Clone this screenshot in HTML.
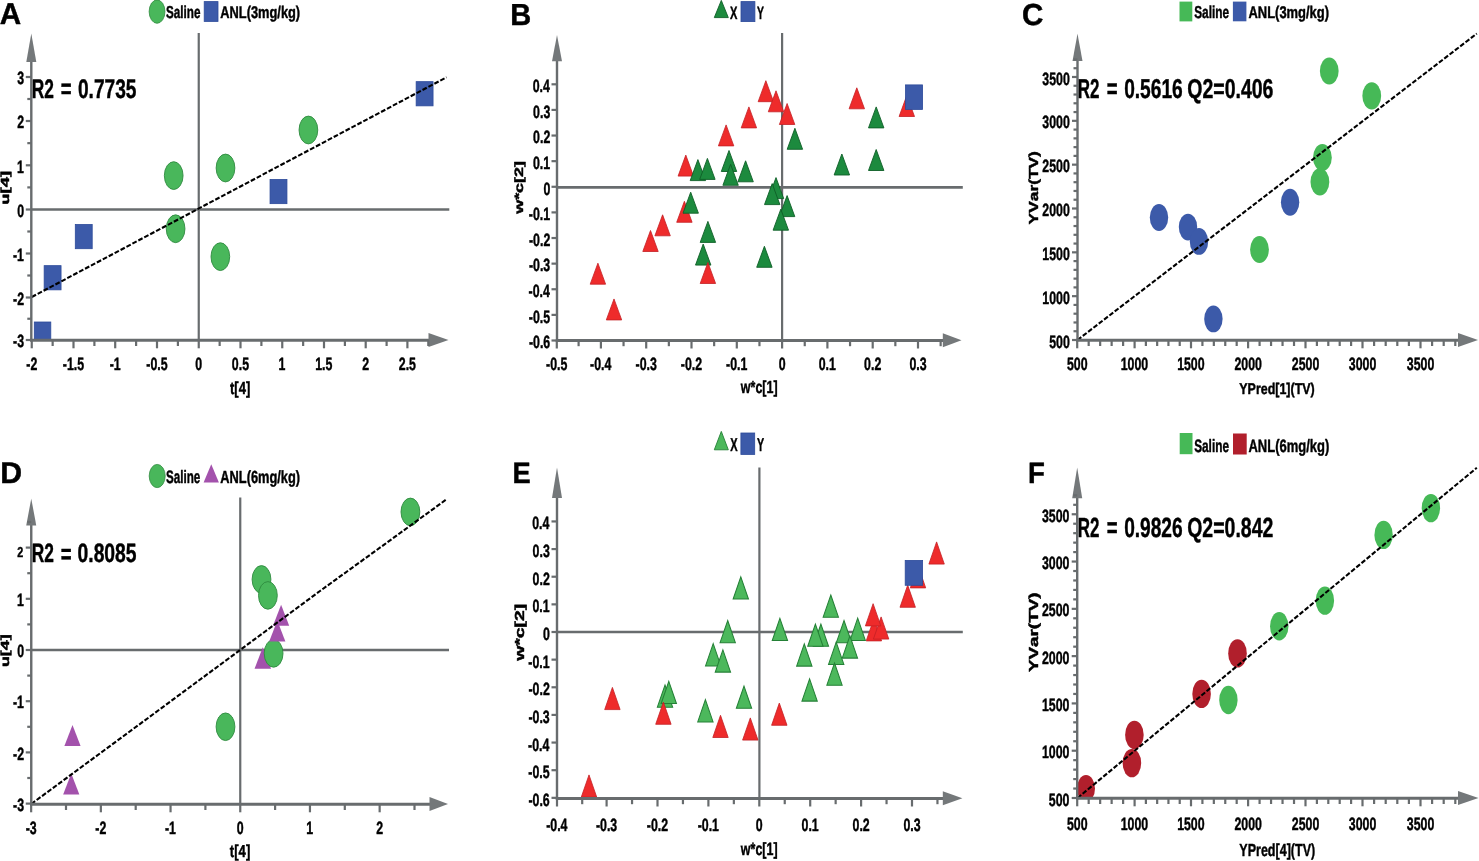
<!DOCTYPE html>
<html><head><meta charset="utf-8"><style>
html,body{margin:0;padding:0;background:#fff;}
svg{display:block;filter:blur(0.45px);}
text{font-family:"Liberation Sans",sans-serif;font-weight:bold;font-kerning:none;text-rendering:geometricPrecision;stroke:#000;stroke-width:0.45px;stroke-linejoin:round;}
</style></head><body>
<svg width="1479" height="861" viewBox="0 0 1479 861">
<rect width="1479" height="861" fill="#fff"/>
<text transform="translate(-0.24,24.40) scale(0.9858,1)" font-size="30.09" fill="#000">A</text>
<ellipse cx="157.05" cy="11.60" rx="7.90" ry="11.70" fill="#49b75b" stroke="#2e8a3e" stroke-width="0.8"/>
<text transform="translate(165.96,18.30) scale(0.6746,1)" font-size="17.33" fill="#000">Saline</text>
<rect x="204.20" y="1.60" width="13.80" height="19.80" fill="#3c5aa9" stroke="#2c4a9a" stroke-width="0.8"/>
<text transform="translate(220.28,18.30) scale(0.7612,1)" font-size="16.86" fill="#000">ANL(3mg/kg)</text>
<line x1="198.75" y1="33.00" x2="198.75" y2="340.00" stroke="#686c6e" stroke-width="2.2" />
<line x1="31.30" y1="209.50" x2="449.30" y2="209.50" stroke="#686c6e" stroke-width="2.6" />
<rect x="34.30" y="322.00" width="16.50" height="18.00" fill="#3c5aa9" stroke="#2c4a9a" stroke-width="0.8"/>
<ellipse cx="308.40" cy="130.00" rx="9.35" ry="13.90" fill="#49b75b" stroke="#2e8a3e" stroke-width="0.9"/>
<ellipse cx="225.50" cy="168.00" rx="9.35" ry="13.90" fill="#49b75b" stroke="#2e8a3e" stroke-width="0.9"/>
<ellipse cx="173.70" cy="175.60" rx="9.35" ry="13.90" fill="#49b75b" stroke="#2e8a3e" stroke-width="0.9"/>
<ellipse cx="175.60" cy="228.75" rx="9.35" ry="13.90" fill="#49b75b" stroke="#2e8a3e" stroke-width="0.9"/>
<ellipse cx="220.35" cy="256.65" rx="9.35" ry="13.90" fill="#49b75b" stroke="#2e8a3e" stroke-width="0.9"/>
<rect x="416.15" y="81.65" width="16.90" height="24.20" fill="#3c5aa9" stroke="#2c4a9a" stroke-width="0.8"/>
<rect x="270.05" y="179.45" width="16.90" height="24.20" fill="#3c5aa9" stroke="#2c4a9a" stroke-width="0.8"/>
<rect x="75.30" y="224.50" width="16.90" height="24.20" fill="#3c5aa9" stroke="#2c4a9a" stroke-width="0.8"/>
<rect x="44.15" y="265.65" width="16.90" height="24.20" fill="#3c5aa9" stroke="#2c4a9a" stroke-width="0.8"/>
<line x1="31.75" y1="297.00" x2="446.50" y2="77.30" stroke="#000" stroke-width="2.1" stroke-dasharray="4.8 1.9"/>
<line x1="31.30" y1="60.90" x2="31.30" y2="341.20" stroke="#686c6e" stroke-width="2.4" />
<polygon points="31.30,33.40 36.30,61.90 26.30,61.90" fill="#74787a"/>
<line x1="30.10" y1="340.30" x2="429.50" y2="340.30" stroke="#686c6e" stroke-width="3.0" />
<polygon points="448.50,340.00 428.50,333.00 428.50,347.00" fill="#74787a"/>
<line x1="25.80" y1="77.00" x2="31.30" y2="77.00" stroke="#686c6e" stroke-width="2.2" />
<line x1="25.80" y1="121.00" x2="31.30" y2="121.00" stroke="#686c6e" stroke-width="2.2" />
<line x1="25.80" y1="165.30" x2="31.30" y2="165.30" stroke="#686c6e" stroke-width="2.2" />
<line x1="25.80" y1="209.50" x2="31.30" y2="209.50" stroke="#686c6e" stroke-width="2.2" />
<line x1="25.80" y1="253.50" x2="31.30" y2="253.50" stroke="#686c6e" stroke-width="2.2" />
<line x1="25.80" y1="297.50" x2="31.30" y2="297.50" stroke="#686c6e" stroke-width="2.2" />
<line x1="25.80" y1="340.00" x2="31.30" y2="340.00" stroke="#686c6e" stroke-width="2.2" />
<line x1="27.30" y1="99.00" x2="31.30" y2="99.00" stroke="#686c6e" stroke-width="2.2" />
<line x1="27.30" y1="143.15" x2="31.30" y2="143.15" stroke="#686c6e" stroke-width="2.2" />
<line x1="27.30" y1="187.40" x2="31.30" y2="187.40" stroke="#686c6e" stroke-width="2.2" />
<line x1="27.30" y1="231.50" x2="31.30" y2="231.50" stroke="#686c6e" stroke-width="2.2" />
<line x1="27.30" y1="275.50" x2="31.30" y2="275.50" stroke="#686c6e" stroke-width="2.2" />
<line x1="27.30" y1="318.75" x2="31.30" y2="318.75" stroke="#686c6e" stroke-width="2.2" />
<line x1="31.75" y1="340.00" x2="31.75" y2="348.30" stroke="#686c6e" stroke-width="2.2" />
<line x1="73.50" y1="340.00" x2="73.50" y2="348.30" stroke="#686c6e" stroke-width="2.2" />
<line x1="115.20" y1="340.00" x2="115.20" y2="348.30" stroke="#686c6e" stroke-width="2.2" />
<line x1="157.00" y1="340.00" x2="157.00" y2="348.30" stroke="#686c6e" stroke-width="2.2" />
<line x1="198.75" y1="340.00" x2="198.75" y2="348.30" stroke="#686c6e" stroke-width="2.2" />
<line x1="240.50" y1="340.00" x2="240.50" y2="348.30" stroke="#686c6e" stroke-width="2.2" />
<line x1="282.25" y1="340.00" x2="282.25" y2="348.30" stroke="#686c6e" stroke-width="2.2" />
<line x1="324.00" y1="340.00" x2="324.00" y2="348.30" stroke="#686c6e" stroke-width="2.2" />
<line x1="365.70" y1="340.00" x2="365.70" y2="348.30" stroke="#686c6e" stroke-width="2.2" />
<line x1="407.40" y1="340.00" x2="407.40" y2="348.30" stroke="#686c6e" stroke-width="2.2" />
<line x1="52.65" y1="340.00" x2="52.65" y2="346.00" stroke="#686c6e" stroke-width="2.2" />
<line x1="94.40" y1="340.00" x2="94.40" y2="346.00" stroke="#686c6e" stroke-width="2.2" />
<line x1="136.10" y1="340.00" x2="136.10" y2="346.00" stroke="#686c6e" stroke-width="2.2" />
<line x1="177.90" y1="340.00" x2="177.90" y2="346.00" stroke="#686c6e" stroke-width="2.2" />
<line x1="219.65" y1="340.00" x2="219.65" y2="346.00" stroke="#686c6e" stroke-width="2.2" />
<line x1="261.40" y1="340.00" x2="261.40" y2="346.00" stroke="#686c6e" stroke-width="2.2" />
<line x1="303.15" y1="340.00" x2="303.15" y2="346.00" stroke="#686c6e" stroke-width="2.2" />
<line x1="344.90" y1="340.00" x2="344.90" y2="346.00" stroke="#686c6e" stroke-width="2.2" />
<line x1="386.60" y1="340.00" x2="386.60" y2="346.00" stroke="#686c6e" stroke-width="2.2" />
<line x1="428.30" y1="340.00" x2="428.30" y2="346.00" stroke="#686c6e" stroke-width="2.2" />
<text transform="translate(17.18,84.35) scale(0.6900,1)" font-size="17.90" fill="#000">3</text>
<text transform="translate(17.23,128.35) scale(0.6900,1)" font-size="17.90" fill="#000">2</text>
<text transform="translate(17.07,172.65) scale(0.6900,1)" font-size="17.90" fill="#000">1</text>
<text transform="translate(17.24,216.85) scale(0.6900,1)" font-size="17.90" fill="#000">0</text>
<text transform="translate(12.96,260.85) scale(0.6900,1)" font-size="17.90" fill="#000">-1</text>
<text transform="translate(13.11,304.85) scale(0.6900,1)" font-size="17.90" fill="#000">-2</text>
<text transform="translate(13.06,347.35) scale(0.6900,1)" font-size="17.90" fill="#000">-3</text>
<text transform="translate(26.27,370.00) scale(0.6900,1)" font-size="17.90" fill="#000">-2</text>
<text transform="translate(62.79,370.00) scale(0.6900,1)" font-size="17.90" fill="#000">-1.5</text>
<text transform="translate(109.64,370.00) scale(0.6900,1)" font-size="17.90" fill="#000">-1</text>
<text transform="translate(146.29,370.00) scale(0.6900,1)" font-size="17.90" fill="#000">-0.5</text>
<text transform="translate(195.32,370.00) scale(0.6900,1)" font-size="17.90" fill="#000">0</text>
<text transform="translate(231.84,370.00) scale(0.6900,1)" font-size="17.90" fill="#000">0.5</text>
<text transform="translate(278.60,370.00) scale(0.6900,1)" font-size="17.90" fill="#000">1</text>
<text transform="translate(315.20,370.00) scale(0.6900,1)" font-size="17.90" fill="#000">1.5</text>
<text transform="translate(362.30,370.00) scale(0.6900,1)" font-size="17.90" fill="#000">2</text>
<text transform="translate(398.77,370.00) scale(0.6900,1)" font-size="17.90" fill="#000">2.5</text>
<text transform="translate(229.94,393.50) scale(0.7481,1)" font-size="17.44" fill="#000">t[4]</text>
<text transform="translate(8.70,204.64) rotate(-90) scale(1.5602,1)" font-size="11.77">u[4]</text>
<text transform="translate(31.74,98.00) scale(0.6471,1)" font-size="26.78" fill="#000">R2</text>
<text transform="translate(60.73,98.20) scale(0.6780,1)" font-size="27.35" fill="#000">=</text>
<text transform="translate(77.94,98.00) scale(0.7153,1)" font-size="26.78" fill="#000">0.7735</text>
<text transform="translate(510.16,24.60) scale(0.9554,1)" font-size="30.38" fill="#000">B</text>
<polygon points="721.30,0.40 728.30,17.60 714.30,17.60" fill="#1c8a3e" stroke="#0f5f27" stroke-width="0.9" stroke-linejoin="miter"/>
<text transform="translate(730.10,18.60) scale(0.6252,1)" font-size="17.73" fill="#000">X</text>
<rect x="741.00" y="1.60" width="13.90" height="20.00" fill="#3c5aa9" stroke="#2c4a9a" stroke-width="0.8"/>
<text transform="translate(757.12,18.60) scale(0.5872,1)" font-size="17.73" fill="#000">Y</text>
<line x1="782.10" y1="33.00" x2="782.10" y2="340.20" stroke="#686c6e" stroke-width="2.2" />
<line x1="557.00" y1="187.40" x2="962.80" y2="187.40" stroke="#686c6e" stroke-width="2.6" />
<polygon points="765.85,80.70 773.55,101.70 758.15,101.70" fill="#ee2b2b" stroke="#c41f24" stroke-width="0.8" stroke-linejoin="miter"/>
<polygon points="776.00,90.80 783.70,111.80 768.30,111.80" fill="#ee2b2b" stroke="#c41f24" stroke-width="0.8" stroke-linejoin="miter"/>
<polygon points="787.10,103.50 794.80,124.50 779.40,124.50" fill="#ee2b2b" stroke="#c41f24" stroke-width="0.8" stroke-linejoin="miter"/>
<polygon points="748.90,106.90 756.60,127.90 741.20,127.90" fill="#ee2b2b" stroke="#c41f24" stroke-width="0.8" stroke-linejoin="miter"/>
<polygon points="726.10,124.90 733.80,145.90 718.40,145.90" fill="#ee2b2b" stroke="#c41f24" stroke-width="0.8" stroke-linejoin="miter"/>
<polygon points="685.80,155.10 693.50,176.10 678.10,176.10" fill="#ee2b2b" stroke="#c41f24" stroke-width="0.8" stroke-linejoin="miter"/>
<polygon points="684.40,201.30 692.10,222.30 676.70,222.30" fill="#ee2b2b" stroke="#c41f24" stroke-width="0.8" stroke-linejoin="miter"/>
<polygon points="662.60,214.80 670.30,235.80 654.90,235.80" fill="#ee2b2b" stroke="#c41f24" stroke-width="0.8" stroke-linejoin="miter"/>
<polygon points="650.50,230.50 658.20,251.50 642.80,251.50" fill="#ee2b2b" stroke="#c41f24" stroke-width="0.8" stroke-linejoin="miter"/>
<polygon points="597.90,263.20 605.60,284.20 590.20,284.20" fill="#ee2b2b" stroke="#c41f24" stroke-width="0.8" stroke-linejoin="miter"/>
<polygon points="614.00,298.95 621.70,319.95 606.30,319.95" fill="#ee2b2b" stroke="#c41f24" stroke-width="0.8" stroke-linejoin="miter"/>
<polygon points="856.80,87.80 864.50,108.80 849.10,108.80" fill="#ee2b2b" stroke="#c41f24" stroke-width="0.8" stroke-linejoin="miter"/>
<polygon points="906.80,95.50 914.50,116.50 899.10,116.50" fill="#ee2b2b" stroke="#c41f24" stroke-width="0.8" stroke-linejoin="miter"/>
<polygon points="794.90,128.30 802.60,149.30 787.20,149.30" fill="#1c8a3e" stroke="#0f5f27" stroke-width="0.9" stroke-linejoin="miter"/>
<polygon points="697.90,159.60 705.60,180.60 690.20,180.60" fill="#1c8a3e" stroke="#0f5f27" stroke-width="0.9" stroke-linejoin="miter"/>
<polygon points="707.40,158.40 715.10,179.40 699.70,179.40" fill="#1c8a3e" stroke="#0f5f27" stroke-width="0.9" stroke-linejoin="miter"/>
<polygon points="729.00,150.50 736.70,171.50 721.30,171.50" fill="#1c8a3e" stroke="#0f5f27" stroke-width="0.9" stroke-linejoin="miter"/>
<polygon points="730.60,164.30 738.30,185.30 722.90,185.30" fill="#1c8a3e" stroke="#0f5f27" stroke-width="0.9" stroke-linejoin="miter"/>
<polygon points="745.60,160.80 753.30,181.80 737.90,181.80" fill="#1c8a3e" stroke="#0f5f27" stroke-width="0.9" stroke-linejoin="miter"/>
<polygon points="776.00,177.60 783.70,198.60 768.30,198.60" fill="#1c8a3e" stroke="#0f5f27" stroke-width="0.9" stroke-linejoin="miter"/>
<polygon points="772.20,183.60 779.90,204.60 764.50,204.60" fill="#1c8a3e" stroke="#0f5f27" stroke-width="0.9" stroke-linejoin="miter"/>
<polygon points="787.10,195.60 794.80,216.60 779.40,216.60" fill="#1c8a3e" stroke="#0f5f27" stroke-width="0.9" stroke-linejoin="miter"/>
<polygon points="780.80,209.20 788.50,230.20 773.10,230.20" fill="#1c8a3e" stroke="#0f5f27" stroke-width="0.9" stroke-linejoin="miter"/>
<polygon points="690.70,192.20 698.40,213.20 683.00,213.20" fill="#1c8a3e" stroke="#0f5f27" stroke-width="0.9" stroke-linejoin="miter"/>
<polygon points="707.90,221.40 715.60,242.40 700.20,242.40" fill="#1c8a3e" stroke="#0f5f27" stroke-width="0.9" stroke-linejoin="miter"/>
<polygon points="703.20,244.10 710.90,265.10 695.50,265.10" fill="#1c8a3e" stroke="#0f5f27" stroke-width="0.9" stroke-linejoin="miter"/>
<polygon points="764.40,246.30 772.10,267.30 756.70,267.30" fill="#1c8a3e" stroke="#0f5f27" stroke-width="0.9" stroke-linejoin="miter"/>
<polygon points="876.20,106.90 883.90,127.90 868.50,127.90" fill="#1c8a3e" stroke="#0f5f27" stroke-width="0.9" stroke-linejoin="miter"/>
<polygon points="876.20,149.50 883.90,170.50 868.50,170.50" fill="#1c8a3e" stroke="#0f5f27" stroke-width="0.9" stroke-linejoin="miter"/>
<polygon points="841.85,154.00 849.55,175.00 834.15,175.00" fill="#1c8a3e" stroke="#0f5f27" stroke-width="0.9" stroke-linejoin="miter"/>
<polygon points="707.90,262.50 715.60,283.50 700.20,283.50" fill="#ee2b2b" stroke="#c41f24" stroke-width="0.8" stroke-linejoin="miter"/>
<rect x="905.50" y="84.90" width="17.10" height="24.50" fill="#3c5aa9" stroke="#2c4a9a" stroke-width="0.8"/>
<line x1="557.00" y1="60.30" x2="557.00" y2="341.40" stroke="#686c6e" stroke-width="2.4" />
<polygon points="557.00,35.00 562.00,61.30 552.00,61.30" fill="#74787a"/>
<line x1="555.80" y1="340.50" x2="943.80" y2="340.50" stroke="#686c6e" stroke-width="3.0" />
<polygon points="961.50,340.20 942.80,333.20 942.80,347.20" fill="#74787a"/>
<line x1="551.50" y1="84.30" x2="557.00" y2="84.30" stroke="#686c6e" stroke-width="2.2" />
<line x1="551.50" y1="109.92" x2="557.00" y2="109.92" stroke="#686c6e" stroke-width="2.2" />
<line x1="551.50" y1="135.54" x2="557.00" y2="135.54" stroke="#686c6e" stroke-width="2.2" />
<line x1="551.50" y1="161.16" x2="557.00" y2="161.16" stroke="#686c6e" stroke-width="2.2" />
<line x1="551.50" y1="186.78" x2="557.00" y2="186.78" stroke="#686c6e" stroke-width="2.2" />
<line x1="551.50" y1="212.40" x2="557.00" y2="212.40" stroke="#686c6e" stroke-width="2.2" />
<line x1="551.50" y1="238.02" x2="557.00" y2="238.02" stroke="#686c6e" stroke-width="2.2" />
<line x1="551.50" y1="263.64" x2="557.00" y2="263.64" stroke="#686c6e" stroke-width="2.2" />
<line x1="551.50" y1="289.26" x2="557.00" y2="289.26" stroke="#686c6e" stroke-width="2.2" />
<line x1="551.50" y1="314.88" x2="557.00" y2="314.88" stroke="#686c6e" stroke-width="2.2" />
<line x1="551.50" y1="340.50" x2="557.00" y2="340.50" stroke="#686c6e" stroke-width="2.2" />
<line x1="556.80" y1="340.20" x2="556.80" y2="348.50" stroke="#686c6e" stroke-width="2.2" />
<line x1="600.90" y1="340.20" x2="600.90" y2="348.50" stroke="#686c6e" stroke-width="2.2" />
<line x1="646.20" y1="340.20" x2="646.20" y2="348.50" stroke="#686c6e" stroke-width="2.2" />
<line x1="691.50" y1="340.20" x2="691.50" y2="348.50" stroke="#686c6e" stroke-width="2.2" />
<line x1="736.80" y1="340.20" x2="736.80" y2="348.50" stroke="#686c6e" stroke-width="2.2" />
<line x1="782.10" y1="340.20" x2="782.10" y2="348.50" stroke="#686c6e" stroke-width="2.2" />
<line x1="827.40" y1="340.20" x2="827.40" y2="348.50" stroke="#686c6e" stroke-width="2.2" />
<line x1="872.70" y1="340.20" x2="872.70" y2="348.50" stroke="#686c6e" stroke-width="2.2" />
<line x1="918.00" y1="340.20" x2="918.00" y2="348.50" stroke="#686c6e" stroke-width="2.2" />
<line x1="578.60" y1="340.20" x2="578.60" y2="346.20" stroke="#686c6e" stroke-width="2.2" />
<line x1="623.55" y1="340.20" x2="623.55" y2="346.20" stroke="#686c6e" stroke-width="2.2" />
<line x1="668.85" y1="340.20" x2="668.85" y2="346.20" stroke="#686c6e" stroke-width="2.2" />
<line x1="714.15" y1="340.20" x2="714.15" y2="346.20" stroke="#686c6e" stroke-width="2.2" />
<line x1="759.45" y1="340.20" x2="759.45" y2="346.20" stroke="#686c6e" stroke-width="2.2" />
<line x1="804.75" y1="340.20" x2="804.75" y2="346.20" stroke="#686c6e" stroke-width="2.2" />
<line x1="850.05" y1="340.20" x2="850.05" y2="346.20" stroke="#686c6e" stroke-width="2.2" />
<line x1="895.35" y1="340.20" x2="895.35" y2="346.20" stroke="#686c6e" stroke-width="2.2" />
<line x1="940.65" y1="340.20" x2="940.65" y2="346.20" stroke="#686c6e" stroke-width="2.2" />
<text transform="translate(532.70,92.05) scale(0.6900,1)" font-size="17.90" fill="#000">0.4</text>
<text transform="translate(533.08,117.67) scale(0.6900,1)" font-size="17.90" fill="#000">0.3</text>
<text transform="translate(533.12,143.29) scale(0.6900,1)" font-size="17.90" fill="#000">0.2</text>
<text transform="translate(532.97,168.91) scale(0.6900,1)" font-size="17.90" fill="#000">0.1</text>
<text transform="translate(543.44,194.53) scale(0.6900,1)" font-size="17.90" fill="#000">0</text>
<text transform="translate(528.86,220.15) scale(0.6900,1)" font-size="17.90" fill="#000">-0.1</text>
<text transform="translate(529.01,245.77) scale(0.6900,1)" font-size="17.90" fill="#000">-0.2</text>
<text transform="translate(528.96,271.39) scale(0.6900,1)" font-size="17.90" fill="#000">-0.3</text>
<text transform="translate(528.58,297.01) scale(0.6900,1)" font-size="17.90" fill="#000">-0.4</text>
<text transform="translate(528.86,322.63) scale(0.6900,1)" font-size="17.90" fill="#000">-0.5</text>
<text transform="translate(528.96,348.25) scale(0.6900,1)" font-size="17.90" fill="#000">-0.6</text>
<text transform="translate(546.09,370.20) scale(0.6900,1)" font-size="17.90" fill="#000">-0.5</text>
<text transform="translate(590.05,370.20) scale(0.6900,1)" font-size="17.90" fill="#000">-0.4</text>
<text transform="translate(635.54,370.20) scale(0.6900,1)" font-size="17.90" fill="#000">-0.3</text>
<text transform="translate(680.86,370.20) scale(0.6900,1)" font-size="17.90" fill="#000">-0.2</text>
<text transform="translate(726.09,370.20) scale(0.6900,1)" font-size="17.90" fill="#000">-0.1</text>
<text transform="translate(778.67,370.20) scale(0.6900,1)" font-size="17.90" fill="#000">0</text>
<text transform="translate(818.74,370.20) scale(0.6900,1)" font-size="17.90" fill="#000">0.1</text>
<text transform="translate(864.12,370.20) scale(0.6900,1)" font-size="17.90" fill="#000">0.2</text>
<text transform="translate(909.39,370.20) scale(0.6900,1)" font-size="17.90" fill="#000">0.3</text>
<text transform="translate(740.84,393.40) scale(0.7156,1)" font-size="17.44" fill="#000">w*c[1]</text>
<text transform="translate(523.30,213.75) rotate(-90) scale(1.4846,1)" font-size="12.06">w*c[2]</text>
<text transform="translate(1021.99,24.50) scale(0.9722,1)" font-size="30.36" fill="#000">C</text>
<rect x="1179.50" y="1.60" width="12.80" height="19.80" fill="#46b957"/>
<text transform="translate(1194.16,18.30) scale(0.6826,1)" font-size="17.33" fill="#000">Saline</text>
<rect x="1232.90" y="1.60" width="13.50" height="19.70" fill="#3c5aa9"/>
<text transform="translate(1248.48,18.30) scale(0.7680,1)" font-size="16.86" fill="#000">ANL(3mg/kg)</text>
<ellipse cx="1259.50" cy="249.50" rx="9.40" ry="13.60" fill="#46b957"/>
<ellipse cx="1319.90" cy="181.90" rx="9.40" ry="13.60" fill="#46b957"/>
<ellipse cx="1322.40" cy="157.50" rx="9.40" ry="13.60" fill="#46b957"/>
<ellipse cx="1371.75" cy="95.90" rx="9.40" ry="13.60" fill="#46b957"/>
<ellipse cx="1329.25" cy="71.00" rx="9.40" ry="13.60" fill="#46b957"/>
<ellipse cx="1159.00" cy="217.50" rx="9.20" ry="13.40" fill="#3c5aa9"/>
<ellipse cx="1188.00" cy="227.10" rx="9.20" ry="13.40" fill="#3c5aa9"/>
<ellipse cx="1199.00" cy="241.40" rx="9.20" ry="13.40" fill="#3c5aa9"/>
<ellipse cx="1213.40" cy="318.90" rx="9.20" ry="13.40" fill="#3c5aa9"/>
<ellipse cx="1290.10" cy="202.25" rx="9.20" ry="13.40" fill="#3c5aa9"/>
<line x1="1077.50" y1="340.00" x2="1476.80" y2="33.60" stroke="#000" stroke-width="2.1" stroke-dasharray="4.8 1.9"/>
<line x1="1077.50" y1="60.00" x2="1077.50" y2="341.20" stroke="#686c6e" stroke-width="2.4" />
<polygon points="1077.50,33.70 1082.50,61.00 1072.50,61.00" fill="#74787a"/>
<line x1="1076.30" y1="340.30" x2="1459.00" y2="340.30" stroke="#686c6e" stroke-width="3.0" />
<polygon points="1478.00,340.00 1458.00,333.00 1458.00,347.00" fill="#74787a"/>
<line x1="1072.00" y1="76.99" x2="1077.50" y2="76.99" stroke="#686c6e" stroke-width="2.2" />
<line x1="1072.00" y1="120.83" x2="1077.50" y2="120.83" stroke="#686c6e" stroke-width="2.2" />
<line x1="1072.00" y1="164.66" x2="1077.50" y2="164.66" stroke="#686c6e" stroke-width="2.2" />
<line x1="1072.00" y1="208.50" x2="1077.50" y2="208.50" stroke="#686c6e" stroke-width="2.2" />
<line x1="1072.00" y1="252.33" x2="1077.50" y2="252.33" stroke="#686c6e" stroke-width="2.2" />
<line x1="1072.00" y1="296.17" x2="1077.50" y2="296.17" stroke="#686c6e" stroke-width="2.2" />
<line x1="1072.00" y1="340.00" x2="1077.50" y2="340.00" stroke="#686c6e" stroke-width="2.2" />
<line x1="1073.50" y1="331.23" x2="1077.50" y2="331.23" stroke="#686c6e" stroke-width="2.2" />
<line x1="1073.50" y1="322.47" x2="1077.50" y2="322.47" stroke="#686c6e" stroke-width="2.2" />
<line x1="1073.50" y1="313.70" x2="1077.50" y2="313.70" stroke="#686c6e" stroke-width="2.2" />
<line x1="1073.50" y1="304.93" x2="1077.50" y2="304.93" stroke="#686c6e" stroke-width="2.2" />
<line x1="1073.50" y1="287.40" x2="1077.50" y2="287.40" stroke="#686c6e" stroke-width="2.2" />
<line x1="1073.50" y1="278.63" x2="1077.50" y2="278.63" stroke="#686c6e" stroke-width="2.2" />
<line x1="1073.50" y1="269.86" x2="1077.50" y2="269.86" stroke="#686c6e" stroke-width="2.2" />
<line x1="1073.50" y1="261.10" x2="1077.50" y2="261.10" stroke="#686c6e" stroke-width="2.2" />
<line x1="1073.50" y1="243.56" x2="1077.50" y2="243.56" stroke="#686c6e" stroke-width="2.2" />
<line x1="1073.50" y1="234.80" x2="1077.50" y2="234.80" stroke="#686c6e" stroke-width="2.2" />
<line x1="1073.50" y1="226.03" x2="1077.50" y2="226.03" stroke="#686c6e" stroke-width="2.2" />
<line x1="1073.50" y1="217.26" x2="1077.50" y2="217.26" stroke="#686c6e" stroke-width="2.2" />
<line x1="1073.50" y1="199.73" x2="1077.50" y2="199.73" stroke="#686c6e" stroke-width="2.2" />
<line x1="1073.50" y1="190.96" x2="1077.50" y2="190.96" stroke="#686c6e" stroke-width="2.2" />
<line x1="1073.50" y1="182.19" x2="1077.50" y2="182.19" stroke="#686c6e" stroke-width="2.2" />
<line x1="1073.50" y1="173.43" x2="1077.50" y2="173.43" stroke="#686c6e" stroke-width="2.2" />
<line x1="1073.50" y1="155.89" x2="1077.50" y2="155.89" stroke="#686c6e" stroke-width="2.2" />
<line x1="1073.50" y1="147.13" x2="1077.50" y2="147.13" stroke="#686c6e" stroke-width="2.2" />
<line x1="1073.50" y1="138.36" x2="1077.50" y2="138.36" stroke="#686c6e" stroke-width="2.2" />
<line x1="1073.50" y1="129.59" x2="1077.50" y2="129.59" stroke="#686c6e" stroke-width="2.2" />
<line x1="1073.50" y1="112.06" x2="1077.50" y2="112.06" stroke="#686c6e" stroke-width="2.2" />
<line x1="1073.50" y1="103.29" x2="1077.50" y2="103.29" stroke="#686c6e" stroke-width="2.2" />
<line x1="1073.50" y1="94.52" x2="1077.50" y2="94.52" stroke="#686c6e" stroke-width="2.2" />
<line x1="1073.50" y1="85.76" x2="1077.50" y2="85.76" stroke="#686c6e" stroke-width="2.2" />
<line x1="1073.50" y1="68.22" x2="1077.50" y2="68.22" stroke="#686c6e" stroke-width="2.2" />
<line x1="1073.50" y1="59.46" x2="1077.50" y2="59.46" stroke="#686c6e" stroke-width="2.2" />
<line x1="1077.20" y1="340.00" x2="1077.20" y2="348.30" stroke="#686c6e" stroke-width="2.2" />
<line x1="1134.60" y1="340.00" x2="1134.60" y2="348.30" stroke="#686c6e" stroke-width="2.2" />
<line x1="1191.00" y1="340.00" x2="1191.00" y2="348.30" stroke="#686c6e" stroke-width="2.2" />
<line x1="1248.10" y1="340.00" x2="1248.10" y2="348.30" stroke="#686c6e" stroke-width="2.2" />
<line x1="1305.50" y1="340.00" x2="1305.50" y2="348.30" stroke="#686c6e" stroke-width="2.2" />
<line x1="1362.50" y1="340.00" x2="1362.50" y2="348.30" stroke="#686c6e" stroke-width="2.2" />
<line x1="1420.50" y1="340.00" x2="1420.50" y2="348.30" stroke="#686c6e" stroke-width="2.2" />
<line x1="1088.68" y1="340.00" x2="1088.68" y2="346.00" stroke="#686c6e" stroke-width="2.2" />
<line x1="1100.16" y1="340.00" x2="1100.16" y2="346.00" stroke="#686c6e" stroke-width="2.2" />
<line x1="1111.64" y1="340.00" x2="1111.64" y2="346.00" stroke="#686c6e" stroke-width="2.2" />
<line x1="1123.12" y1="340.00" x2="1123.12" y2="346.00" stroke="#686c6e" stroke-width="2.2" />
<line x1="1145.88" y1="340.00" x2="1145.88" y2="346.00" stroke="#686c6e" stroke-width="2.2" />
<line x1="1157.16" y1="340.00" x2="1157.16" y2="346.00" stroke="#686c6e" stroke-width="2.2" />
<line x1="1168.44" y1="340.00" x2="1168.44" y2="346.00" stroke="#686c6e" stroke-width="2.2" />
<line x1="1179.72" y1="340.00" x2="1179.72" y2="346.00" stroke="#686c6e" stroke-width="2.2" />
<line x1="1202.42" y1="340.00" x2="1202.42" y2="346.00" stroke="#686c6e" stroke-width="2.2" />
<line x1="1213.84" y1="340.00" x2="1213.84" y2="346.00" stroke="#686c6e" stroke-width="2.2" />
<line x1="1225.26" y1="340.00" x2="1225.26" y2="346.00" stroke="#686c6e" stroke-width="2.2" />
<line x1="1236.68" y1="340.00" x2="1236.68" y2="346.00" stroke="#686c6e" stroke-width="2.2" />
<line x1="1259.58" y1="340.00" x2="1259.58" y2="346.00" stroke="#686c6e" stroke-width="2.2" />
<line x1="1271.06" y1="340.00" x2="1271.06" y2="346.00" stroke="#686c6e" stroke-width="2.2" />
<line x1="1282.54" y1="340.00" x2="1282.54" y2="346.00" stroke="#686c6e" stroke-width="2.2" />
<line x1="1294.02" y1="340.00" x2="1294.02" y2="346.00" stroke="#686c6e" stroke-width="2.2" />
<line x1="1316.90" y1="340.00" x2="1316.90" y2="346.00" stroke="#686c6e" stroke-width="2.2" />
<line x1="1328.30" y1="340.00" x2="1328.30" y2="346.00" stroke="#686c6e" stroke-width="2.2" />
<line x1="1339.70" y1="340.00" x2="1339.70" y2="346.00" stroke="#686c6e" stroke-width="2.2" />
<line x1="1351.10" y1="340.00" x2="1351.10" y2="346.00" stroke="#686c6e" stroke-width="2.2" />
<line x1="1374.10" y1="340.00" x2="1374.10" y2="346.00" stroke="#686c6e" stroke-width="2.2" />
<line x1="1385.70" y1="340.00" x2="1385.70" y2="346.00" stroke="#686c6e" stroke-width="2.2" />
<line x1="1397.30" y1="340.00" x2="1397.30" y2="346.00" stroke="#686c6e" stroke-width="2.2" />
<line x1="1408.90" y1="340.00" x2="1408.90" y2="346.00" stroke="#686c6e" stroke-width="2.2" />
<line x1="1432.10" y1="340.00" x2="1432.10" y2="346.00" stroke="#686c6e" stroke-width="2.2" />
<line x1="1443.70" y1="340.00" x2="1443.70" y2="346.00" stroke="#686c6e" stroke-width="2.2" />
<line x1="1455.30" y1="340.00" x2="1455.30" y2="346.00" stroke="#686c6e" stroke-width="2.2" />
<text transform="translate(1042.33,84.54) scale(0.6900,1)" font-size="17.90" fill="#000">3500</text>
<text transform="translate(1042.33,128.37) scale(0.6900,1)" font-size="17.90" fill="#000">3000</text>
<text transform="translate(1042.33,172.21) scale(0.6900,1)" font-size="17.90" fill="#000">2500</text>
<text transform="translate(1042.33,216.04) scale(0.6900,1)" font-size="17.90" fill="#000">2000</text>
<text transform="translate(1042.33,259.88) scale(0.6900,1)" font-size="17.90" fill="#000">1500</text>
<text transform="translate(1042.33,303.71) scale(0.6900,1)" font-size="17.90" fill="#000">1000</text>
<text transform="translate(1049.20,347.55) scale(0.6900,1)" font-size="17.90" fill="#000">500</text>
<text transform="translate(1066.96,370.30) scale(0.6900,1)" font-size="17.90" fill="#000">500</text>
<text transform="translate(1120.73,370.30) scale(0.6900,1)" font-size="17.90" fill="#000">1000</text>
<text transform="translate(1177.13,370.30) scale(0.6900,1)" font-size="17.90" fill="#000">1500</text>
<text transform="translate(1234.40,370.30) scale(0.6900,1)" font-size="17.90" fill="#000">2000</text>
<text transform="translate(1291.80,370.30) scale(0.6900,1)" font-size="17.90" fill="#000">2500</text>
<text transform="translate(1348.87,370.30) scale(0.6900,1)" font-size="17.90" fill="#000">3000</text>
<text transform="translate(1406.87,370.30) scale(0.6900,1)" font-size="17.90" fill="#000">3500</text>
<text transform="translate(1239.29,393.50) scale(0.8009,1)" font-size="15.55" fill="#000">YPred[1](TV)</text>
<text transform="translate(1038.40,224.40) rotate(-90) scale(1.3261,1)" font-size="13.08">YVar(TV)</text>
<text transform="translate(1077.86,97.60) scale(0.6210,1)" font-size="27.35" fill="#000">R2</text>
<text transform="translate(1106.83,97.80) scale(0.6641,1)" font-size="27.93" fill="#000">=</text>
<text transform="translate(1124.14,97.60) scale(0.6998,1)" font-size="27.35" fill="#000">0.5616</text>
<text transform="translate(1187.20,97.60) scale(0.7138,1)" font-size="27.35" fill="#000">Q2=0.406</text>
<text transform="translate(0.23,482.80) scale(1.0102,1)" font-size="29.94" fill="#000">D</text>
<ellipse cx="157.20" cy="476.00" rx="8.00" ry="11.60" fill="#49b75b" stroke="#2e8a3e" stroke-width="0.8"/>
<text transform="translate(165.96,483.10) scale(0.6478,1)" font-size="18.05" fill="#000">Saline</text>
<polygon points="211.25,464.30 218.90,482.50 203.60,482.50" fill="#a352ac"/>
<text transform="translate(220.28,483.10) scale(0.7298,1)" font-size="17.59" fill="#000">ANL(6mg/kg)</text>
<line x1="240.25" y1="497.50" x2="240.25" y2="804.00" stroke="#686c6e" stroke-width="2.2" />
<line x1="31.25" y1="650.00" x2="449.00" y2="650.00" stroke="#686c6e" stroke-width="2.6" />
<polygon points="262.80,647.15 271.05,668.65 254.55,668.65" fill="#a352ac"/>
<ellipse cx="410.40" cy="511.90" rx="9.40" ry="13.80" fill="#49b75b" stroke="#2e8a3e" stroke-width="0.9"/>
<ellipse cx="261.50" cy="579.40" rx="9.40" ry="13.80" fill="#49b75b" stroke="#2e8a3e" stroke-width="0.9"/>
<ellipse cx="267.90" cy="595.40" rx="9.40" ry="13.80" fill="#49b75b" stroke="#2e8a3e" stroke-width="0.9"/>
<ellipse cx="273.60" cy="653.40" rx="9.40" ry="13.80" fill="#49b75b" stroke="#2e8a3e" stroke-width="0.9"/>
<ellipse cx="225.50" cy="726.75" rx="9.40" ry="13.80" fill="#49b75b" stroke="#2e8a3e" stroke-width="0.9"/>
<polygon points="72.50,724.90 80.60,745.90 64.40,745.90" fill="#a352ac"/>
<polygon points="71.25,773.50 79.35,794.50 63.15,794.50" fill="#a352ac"/>
<polygon points="277.30,620.50 285.40,641.50 269.20,641.50" fill="#a352ac"/>
<polygon points="281.10,604.70 289.20,625.70 273.00,625.70" fill="#a352ac"/>
<polyline points="31.25,804.00 139.10,724.60 320.00,591.00 384.20,544.60 446.30,499.50" fill="none" stroke="#000" stroke-width="2.1" stroke-dasharray="4.8 1.9"/>
<line x1="31.25" y1="524.50" x2="31.25" y2="805.20" stroke="#686c6e" stroke-width="2.4" />
<polygon points="31.25,498.40 36.25,525.50 26.25,525.50" fill="#74787a"/>
<line x1="30.05" y1="804.30" x2="430.50" y2="804.30" stroke="#686c6e" stroke-width="3.0" />
<polygon points="448.00,804.00 429.50,797.00 429.50,811.00" fill="#74787a"/>
<line x1="25.75" y1="547.60" x2="31.25" y2="547.60" stroke="#686c6e" stroke-width="2.2" />
<line x1="25.75" y1="598.80" x2="31.25" y2="598.80" stroke="#686c6e" stroke-width="2.2" />
<line x1="25.75" y1="650.00" x2="31.25" y2="650.00" stroke="#686c6e" stroke-width="2.2" />
<line x1="25.75" y1="701.20" x2="31.25" y2="701.20" stroke="#686c6e" stroke-width="2.2" />
<line x1="25.75" y1="752.40" x2="31.25" y2="752.40" stroke="#686c6e" stroke-width="2.2" />
<line x1="25.75" y1="803.60" x2="31.25" y2="803.60" stroke="#686c6e" stroke-width="2.2" />
<line x1="27.25" y1="778.00" x2="31.25" y2="778.00" stroke="#686c6e" stroke-width="2.2" />
<line x1="27.25" y1="726.80" x2="31.25" y2="726.80" stroke="#686c6e" stroke-width="2.2" />
<line x1="27.25" y1="675.60" x2="31.25" y2="675.60" stroke="#686c6e" stroke-width="2.2" />
<line x1="27.25" y1="624.40" x2="31.25" y2="624.40" stroke="#686c6e" stroke-width="2.2" />
<line x1="27.25" y1="573.20" x2="31.25" y2="573.20" stroke="#686c6e" stroke-width="2.2" />
<line x1="27.25" y1="522.00" x2="31.25" y2="522.00" stroke="#686c6e" stroke-width="2.2" />
<line x1="31.15" y1="804.00" x2="31.15" y2="812.30" stroke="#686c6e" stroke-width="2.2" />
<line x1="100.85" y1="804.00" x2="100.85" y2="812.30" stroke="#686c6e" stroke-width="2.2" />
<line x1="170.55" y1="804.00" x2="170.55" y2="812.30" stroke="#686c6e" stroke-width="2.2" />
<line x1="240.25" y1="804.00" x2="240.25" y2="812.30" stroke="#686c6e" stroke-width="2.2" />
<line x1="309.95" y1="804.00" x2="309.95" y2="812.30" stroke="#686c6e" stroke-width="2.2" />
<line x1="379.65" y1="804.00" x2="379.65" y2="812.30" stroke="#686c6e" stroke-width="2.2" />
<line x1="66.00" y1="804.00" x2="66.00" y2="810.00" stroke="#686c6e" stroke-width="2.2" />
<line x1="135.70" y1="804.00" x2="135.70" y2="810.00" stroke="#686c6e" stroke-width="2.2" />
<line x1="205.40" y1="804.00" x2="205.40" y2="810.00" stroke="#686c6e" stroke-width="2.2" />
<line x1="275.10" y1="804.00" x2="275.10" y2="810.00" stroke="#686c6e" stroke-width="2.2" />
<line x1="344.80" y1="804.00" x2="344.80" y2="810.00" stroke="#686c6e" stroke-width="2.2" />
<line x1="414.50" y1="804.00" x2="414.50" y2="810.00" stroke="#686c6e" stroke-width="2.2" />
<text transform="translate(17.07,606.05) scale(0.6900,1)" font-size="17.90" fill="#000">1</text>
<text transform="translate(17.24,657.25) scale(0.6900,1)" font-size="17.90" fill="#000">0</text>
<text transform="translate(12.96,708.45) scale(0.6900,1)" font-size="17.90" fill="#000">-1</text>
<text transform="translate(13.11,759.65) scale(0.6900,1)" font-size="17.90" fill="#000">-2</text>
<text transform="translate(13.06,810.85) scale(0.6900,1)" font-size="17.90" fill="#000">-3</text>
<text transform="translate(25.64,833.50) scale(0.6900,1)" font-size="17.90" fill="#000">-3</text>
<text transform="translate(95.37,833.50) scale(0.6900,1)" font-size="17.90" fill="#000">-2</text>
<text transform="translate(164.99,833.50) scale(0.6900,1)" font-size="17.90" fill="#000">-1</text>
<text transform="translate(236.82,833.50) scale(0.6900,1)" font-size="17.90" fill="#000">0</text>
<text transform="translate(306.30,833.50) scale(0.6900,1)" font-size="17.90" fill="#000">1</text>
<text transform="translate(376.25,833.50) scale(0.6900,1)" font-size="17.90" fill="#000">2</text>
<text transform="translate(17.23,556.70) scale(0.7467,1)" font-size="14.46" fill="#000">2</text>
<text transform="translate(229.84,857.30) scale(0.7621,1)" font-size="17.30" fill="#000">t[4]</text>
<text transform="translate(8.70,667.11) rotate(-90) scale(1.5255,1)" font-size="11.77">u[4]</text>
<text transform="translate(31.74,562.30) scale(0.6541,1)" font-size="26.50" fill="#000">R2</text>
<text transform="translate(60.73,562.50) scale(0.6852,1)" font-size="27.07" fill="#000">=</text>
<text transform="translate(77.54,562.30) scale(0.7281,1)" font-size="26.50" fill="#000">0.8085</text>
<text transform="translate(512.58,482.70) scale(0.9242,1)" font-size="29.51" fill="#000">E</text>
<polygon points="721.30,431.40 728.30,449.80 714.30,449.80" fill="#4cb85c" stroke="#248036" stroke-width="0.9" stroke-linejoin="miter"/>
<text transform="translate(730.20,451.20) scale(0.5959,1)" font-size="18.60" fill="#000">X</text>
<rect x="740.90" y="433.00" width="13.80" height="21.40" fill="#3c5aa9" stroke="#2c4a9a" stroke-width="0.8"/>
<text transform="translate(757.12,451.20) scale(0.5767,1)" font-size="18.60" fill="#000">Y</text>
<line x1="759.40" y1="467.40" x2="759.40" y2="798.00" stroke="#686c6e" stroke-width="2.2" />
<line x1="557.00" y1="632.00" x2="962.80" y2="632.00" stroke="#686c6e" stroke-width="2.6" />
<polygon points="740.80,576.80 748.45,599.00 733.15,599.00" fill="#4cb85c" stroke="#248036" stroke-width="1.05" stroke-linejoin="miter"/>
<polygon points="727.70,620.50 735.35,642.70 720.05,642.70" fill="#4cb85c" stroke="#248036" stroke-width="1.05" stroke-linejoin="miter"/>
<polygon points="779.90,618.30 787.55,640.50 772.25,640.50" fill="#4cb85c" stroke="#248036" stroke-width="1.05" stroke-linejoin="miter"/>
<polygon points="830.80,595.00 838.45,617.20 823.15,617.20" fill="#4cb85c" stroke="#248036" stroke-width="1.05" stroke-linejoin="miter"/>
<polygon points="820.90,624.10 828.55,646.30 813.25,646.30" fill="#4cb85c" stroke="#248036" stroke-width="1.05" stroke-linejoin="miter"/>
<polygon points="815.40,624.10 823.05,646.30 807.75,646.30" fill="#4cb85c" stroke="#248036" stroke-width="1.05" stroke-linejoin="miter"/>
<polygon points="713.20,643.70 720.85,665.90 705.55,665.90" fill="#4cb85c" stroke="#248036" stroke-width="1.05" stroke-linejoin="miter"/>
<polygon points="722.90,649.90 730.55,672.10 715.25,672.10" fill="#4cb85c" stroke="#248036" stroke-width="1.05" stroke-linejoin="miter"/>
<polygon points="804.30,643.90 811.95,666.10 796.65,666.10" fill="#4cb85c" stroke="#248036" stroke-width="1.05" stroke-linejoin="miter"/>
<polygon points="836.20,642.20 843.85,664.40 828.55,664.40" fill="#4cb85c" stroke="#248036" stroke-width="1.05" stroke-linejoin="miter"/>
<polygon points="834.50,663.00 842.15,685.20 826.85,685.20" fill="#4cb85c" stroke="#248036" stroke-width="1.05" stroke-linejoin="miter"/>
<polygon points="809.60,678.90 817.25,701.10 801.95,701.10" fill="#4cb85c" stroke="#248036" stroke-width="1.05" stroke-linejoin="miter"/>
<polygon points="744.00,686.10 751.65,708.30 736.35,708.30" fill="#4cb85c" stroke="#248036" stroke-width="1.05" stroke-linejoin="miter"/>
<polygon points="705.40,699.70 713.05,721.90 697.75,721.90" fill="#4cb85c" stroke="#248036" stroke-width="1.05" stroke-linejoin="miter"/>
<polygon points="844.00,620.50 851.65,642.70 836.35,642.70" fill="#4cb85c" stroke="#248036" stroke-width="1.05" stroke-linejoin="miter"/>
<polygon points="857.70,618.20 865.35,640.40 850.05,640.40" fill="#4cb85c" stroke="#248036" stroke-width="1.05" stroke-linejoin="miter"/>
<polygon points="849.90,635.90 857.55,658.10 842.25,658.10" fill="#4cb85c" stroke="#248036" stroke-width="1.05" stroke-linejoin="miter"/>
<polygon points="665.00,685.00 672.65,707.20 657.35,707.20" fill="#4cb85c" stroke="#248036" stroke-width="1.05" stroke-linejoin="miter"/>
<polygon points="668.80,681.30 676.45,703.50 661.15,703.50" fill="#4cb85c" stroke="#248036" stroke-width="1.05" stroke-linejoin="miter"/>
<polygon points="936.60,541.90 944.30,564.10 928.90,564.10" fill="#ee2b2b" stroke="#c41f24" stroke-width="0.8" stroke-linejoin="miter"/>
<polygon points="907.70,585.10 915.40,607.30 900.00,607.30" fill="#ee2b2b" stroke="#c41f24" stroke-width="0.8" stroke-linejoin="miter"/>
<polygon points="918.00,565.70 925.70,587.90 910.30,587.90" fill="#ee2b2b" stroke="#c41f24" stroke-width="0.8" stroke-linejoin="miter"/>
<polygon points="873.90,618.70 881.60,640.90 866.20,640.90" fill="#ee2b2b" stroke="#c41f24" stroke-width="0.8" stroke-linejoin="miter"/>
<polygon points="881.10,616.90 888.80,639.10 873.40,639.10" fill="#ee2b2b" stroke="#c41f24" stroke-width="0.8" stroke-linejoin="miter"/>
<polygon points="873.10,603.70 880.80,625.90 865.40,625.90" fill="#ee2b2b" stroke="#c41f24" stroke-width="0.8" stroke-linejoin="miter"/>
<polygon points="779.30,703.10 787.00,725.30 771.60,725.30" fill="#ee2b2b" stroke="#c41f24" stroke-width="0.8" stroke-linejoin="miter"/>
<polygon points="612.40,687.40 620.10,709.60 604.70,709.60" fill="#ee2b2b" stroke="#c41f24" stroke-width="0.8" stroke-linejoin="miter"/>
<polygon points="663.40,702.10 671.10,724.30 655.70,724.30" fill="#ee2b2b" stroke="#c41f24" stroke-width="0.8" stroke-linejoin="miter"/>
<polygon points="720.50,715.30 728.20,737.50 712.80,737.50" fill="#ee2b2b" stroke="#c41f24" stroke-width="0.8" stroke-linejoin="miter"/>
<polygon points="750.30,717.90 758.00,740.10 742.60,740.10" fill="#ee2b2b" stroke="#c41f24" stroke-width="0.8" stroke-linejoin="miter"/>
<polygon points="589.00,774.90 596.70,797.10 581.30,797.10" fill="#ee2b2b" stroke="#c41f24" stroke-width="0.8" stroke-linejoin="miter"/>
<rect x="905.20" y="560.40" width="17.40" height="24.90" fill="#3c5aa9" stroke="#2c4a9a" stroke-width="0.8"/>
<line x1="557.00" y1="497.00" x2="557.00" y2="799.40" stroke="#686c6e" stroke-width="2.4" />
<polygon points="557.00,467.50 562.00,498.00 552.00,498.00" fill="#74787a"/>
<line x1="555.80" y1="798.50" x2="943.80" y2="798.50" stroke="#686c6e" stroke-width="3.0" />
<polygon points="962.40,798.20 942.80,791.20 942.80,805.20" fill="#74787a"/>
<line x1="551.50" y1="521.44" x2="557.00" y2="521.44" stroke="#686c6e" stroke-width="2.2" />
<line x1="551.50" y1="549.08" x2="557.00" y2="549.08" stroke="#686c6e" stroke-width="2.2" />
<line x1="551.50" y1="576.72" x2="557.00" y2="576.72" stroke="#686c6e" stroke-width="2.2" />
<line x1="551.50" y1="604.36" x2="557.00" y2="604.36" stroke="#686c6e" stroke-width="2.2" />
<line x1="551.50" y1="632.00" x2="557.00" y2="632.00" stroke="#686c6e" stroke-width="2.2" />
<line x1="551.50" y1="659.64" x2="557.00" y2="659.64" stroke="#686c6e" stroke-width="2.2" />
<line x1="551.50" y1="687.28" x2="557.00" y2="687.28" stroke="#686c6e" stroke-width="2.2" />
<line x1="551.50" y1="714.92" x2="557.00" y2="714.92" stroke="#686c6e" stroke-width="2.2" />
<line x1="551.50" y1="742.56" x2="557.00" y2="742.56" stroke="#686c6e" stroke-width="2.2" />
<line x1="551.50" y1="770.20" x2="557.00" y2="770.20" stroke="#686c6e" stroke-width="2.2" />
<line x1="551.50" y1="797.84" x2="557.00" y2="797.84" stroke="#686c6e" stroke-width="2.2" />
<line x1="557.00" y1="798.20" x2="557.00" y2="806.50" stroke="#686c6e" stroke-width="2.2" />
<line x1="606.60" y1="798.20" x2="606.60" y2="806.50" stroke="#686c6e" stroke-width="2.2" />
<line x1="657.50" y1="798.20" x2="657.50" y2="806.50" stroke="#686c6e" stroke-width="2.2" />
<line x1="708.40" y1="798.20" x2="708.40" y2="806.50" stroke="#686c6e" stroke-width="2.2" />
<line x1="759.30" y1="798.20" x2="759.30" y2="806.50" stroke="#686c6e" stroke-width="2.2" />
<line x1="810.20" y1="798.20" x2="810.20" y2="806.50" stroke="#686c6e" stroke-width="2.2" />
<line x1="861.10" y1="798.20" x2="861.10" y2="806.50" stroke="#686c6e" stroke-width="2.2" />
<line x1="912.00" y1="798.20" x2="912.00" y2="806.50" stroke="#686c6e" stroke-width="2.2" />
<line x1="582.20" y1="798.20" x2="582.20" y2="804.20" stroke="#686c6e" stroke-width="2.2" />
<line x1="632.05" y1="798.20" x2="632.05" y2="804.20" stroke="#686c6e" stroke-width="2.2" />
<line x1="682.95" y1="798.20" x2="682.95" y2="804.20" stroke="#686c6e" stroke-width="2.2" />
<line x1="733.85" y1="798.20" x2="733.85" y2="804.20" stroke="#686c6e" stroke-width="2.2" />
<line x1="784.75" y1="798.20" x2="784.75" y2="804.20" stroke="#686c6e" stroke-width="2.2" />
<line x1="835.65" y1="798.20" x2="835.65" y2="804.20" stroke="#686c6e" stroke-width="2.2" />
<line x1="886.55" y1="798.20" x2="886.55" y2="804.20" stroke="#686c6e" stroke-width="2.2" />
<line x1="937.45" y1="798.20" x2="937.45" y2="804.20" stroke="#686c6e" stroke-width="2.2" />
<text transform="translate(532.20,529.39) scale(0.6900,1)" font-size="17.90" fill="#000">0.4</text>
<text transform="translate(532.58,557.03) scale(0.6900,1)" font-size="17.90" fill="#000">0.3</text>
<text transform="translate(532.62,584.67) scale(0.6900,1)" font-size="17.90" fill="#000">0.2</text>
<text transform="translate(532.47,612.31) scale(0.6900,1)" font-size="17.90" fill="#000">0.1</text>
<text transform="translate(542.94,639.95) scale(0.6900,1)" font-size="17.90" fill="#000">0</text>
<text transform="translate(528.36,667.59) scale(0.6900,1)" font-size="17.90" fill="#000">-0.1</text>
<text transform="translate(528.51,695.23) scale(0.6900,1)" font-size="17.90" fill="#000">-0.2</text>
<text transform="translate(528.46,722.87) scale(0.6900,1)" font-size="17.90" fill="#000">-0.3</text>
<text transform="translate(528.08,750.51) scale(0.6900,1)" font-size="17.90" fill="#000">-0.4</text>
<text transform="translate(528.36,778.15) scale(0.6900,1)" font-size="17.90" fill="#000">-0.5</text>
<text transform="translate(528.46,805.79) scale(0.6900,1)" font-size="17.90" fill="#000">-0.6</text>
<text transform="translate(546.15,831.00) scale(0.6900,1)" font-size="17.90" fill="#000">-0.4</text>
<text transform="translate(595.94,831.00) scale(0.6900,1)" font-size="17.90" fill="#000">-0.3</text>
<text transform="translate(646.86,831.00) scale(0.6900,1)" font-size="17.90" fill="#000">-0.2</text>
<text transform="translate(697.69,831.00) scale(0.6900,1)" font-size="17.90" fill="#000">-0.1</text>
<text transform="translate(755.87,831.00) scale(0.6900,1)" font-size="17.90" fill="#000">0</text>
<text transform="translate(801.54,831.00) scale(0.6900,1)" font-size="17.90" fill="#000">0.1</text>
<text transform="translate(852.52,831.00) scale(0.6900,1)" font-size="17.90" fill="#000">0.2</text>
<text transform="translate(903.39,831.00) scale(0.6900,1)" font-size="17.90" fill="#000">0.3</text>
<text transform="translate(740.84,855.40) scale(0.7039,1)" font-size="17.73" fill="#000">w*c[1]</text>
<text transform="translate(524.40,660.84) rotate(-90) scale(1.4828,1)" font-size="13.08">w*c[2]</text>
<text transform="translate(1028.05,482.70) scale(0.9352,1)" font-size="29.51" fill="#000">F</text>
<rect x="1179.70" y="433.00" width="12.80" height="21.20" fill="#46b957"/>
<text transform="translate(1194.16,451.50) scale(0.6607,1)" font-size="17.90" fill="#000">Saline</text>
<rect x="1233.00" y="433.50" width="13.70" height="21.00" fill="#b11f2c"/>
<text transform="translate(1248.48,451.70) scale(0.7279,1)" font-size="17.88" fill="#000">ANL(6mg/kg)</text>
<ellipse cx="1228.40" cy="700.00" rx="9.20" ry="14.20" fill="#46b957"/>
<ellipse cx="1279.25" cy="626.25" rx="9.20" ry="14.20" fill="#46b957"/>
<ellipse cx="1324.90" cy="600.60" rx="9.20" ry="14.20" fill="#46b957"/>
<ellipse cx="1383.60" cy="534.90" rx="9.20" ry="14.20" fill="#46b957"/>
<ellipse cx="1430.90" cy="508.10" rx="9.20" ry="14.20" fill="#46b957"/>
<ellipse cx="1134.40" cy="734.90" rx="9.30" ry="14.20" fill="#b11f2c"/>
<ellipse cx="1131.90" cy="763.10" rx="9.30" ry="14.20" fill="#b11f2c"/>
<ellipse cx="1201.60" cy="693.90" rx="9.30" ry="14.20" fill="#b11f2c"/>
<ellipse cx="1237.50" cy="653.40" rx="9.30" ry="14.20" fill="#b11f2c"/>
<clipPath id="cf"><rect x="1077" y="400" width="400" height="398"/></clipPath>
<ellipse clip-path="url(#cf)" cx="1086" cy="788.5" rx="9" ry="13.5" fill="#b11f2c"/>
<line x1="1077.50" y1="798.00" x2="1476.80" y2="467.80" stroke="#000" stroke-width="2.1" stroke-dasharray="4.8 1.9"/>
<line x1="1077.20" y1="497.20" x2="1077.20" y2="799.20" stroke="#686c6e" stroke-width="2.4" />
<polygon points="1077.20,467.50 1082.20,498.20 1072.20,498.20" fill="#74787a"/>
<line x1="1076.00" y1="798.30" x2="1459.00" y2="798.30" stroke="#686c6e" stroke-width="3.0" />
<polygon points="1478.50,798.00 1458.00,791.00 1458.00,805.00" fill="#74787a"/>
<line x1="1071.70" y1="514.26" x2="1077.20" y2="514.26" stroke="#686c6e" stroke-width="2.2" />
<line x1="1071.70" y1="561.55" x2="1077.20" y2="561.55" stroke="#686c6e" stroke-width="2.2" />
<line x1="1071.70" y1="608.84" x2="1077.20" y2="608.84" stroke="#686c6e" stroke-width="2.2" />
<line x1="1071.70" y1="656.13" x2="1077.20" y2="656.13" stroke="#686c6e" stroke-width="2.2" />
<line x1="1071.70" y1="703.42" x2="1077.20" y2="703.42" stroke="#686c6e" stroke-width="2.2" />
<line x1="1071.70" y1="750.71" x2="1077.20" y2="750.71" stroke="#686c6e" stroke-width="2.2" />
<line x1="1071.70" y1="798.00" x2="1077.20" y2="798.00" stroke="#686c6e" stroke-width="2.2" />
<line x1="1073.20" y1="788.54" x2="1077.20" y2="788.54" stroke="#686c6e" stroke-width="2.2" />
<line x1="1073.20" y1="779.08" x2="1077.20" y2="779.08" stroke="#686c6e" stroke-width="2.2" />
<line x1="1073.20" y1="769.63" x2="1077.20" y2="769.63" stroke="#686c6e" stroke-width="2.2" />
<line x1="1073.20" y1="760.17" x2="1077.20" y2="760.17" stroke="#686c6e" stroke-width="2.2" />
<line x1="1073.20" y1="741.25" x2="1077.20" y2="741.25" stroke="#686c6e" stroke-width="2.2" />
<line x1="1073.20" y1="731.79" x2="1077.20" y2="731.79" stroke="#686c6e" stroke-width="2.2" />
<line x1="1073.20" y1="722.34" x2="1077.20" y2="722.34" stroke="#686c6e" stroke-width="2.2" />
<line x1="1073.20" y1="712.88" x2="1077.20" y2="712.88" stroke="#686c6e" stroke-width="2.2" />
<line x1="1073.20" y1="693.96" x2="1077.20" y2="693.96" stroke="#686c6e" stroke-width="2.2" />
<line x1="1073.20" y1="684.50" x2="1077.20" y2="684.50" stroke="#686c6e" stroke-width="2.2" />
<line x1="1073.20" y1="675.05" x2="1077.20" y2="675.05" stroke="#686c6e" stroke-width="2.2" />
<line x1="1073.20" y1="665.59" x2="1077.20" y2="665.59" stroke="#686c6e" stroke-width="2.2" />
<line x1="1073.20" y1="646.67" x2="1077.20" y2="646.67" stroke="#686c6e" stroke-width="2.2" />
<line x1="1073.20" y1="637.21" x2="1077.20" y2="637.21" stroke="#686c6e" stroke-width="2.2" />
<line x1="1073.20" y1="627.76" x2="1077.20" y2="627.76" stroke="#686c6e" stroke-width="2.2" />
<line x1="1073.20" y1="618.30" x2="1077.20" y2="618.30" stroke="#686c6e" stroke-width="2.2" />
<line x1="1073.20" y1="599.38" x2="1077.20" y2="599.38" stroke="#686c6e" stroke-width="2.2" />
<line x1="1073.20" y1="589.92" x2="1077.20" y2="589.92" stroke="#686c6e" stroke-width="2.2" />
<line x1="1073.20" y1="580.47" x2="1077.20" y2="580.47" stroke="#686c6e" stroke-width="2.2" />
<line x1="1073.20" y1="571.01" x2="1077.20" y2="571.01" stroke="#686c6e" stroke-width="2.2" />
<line x1="1073.20" y1="552.09" x2="1077.20" y2="552.09" stroke="#686c6e" stroke-width="2.2" />
<line x1="1073.20" y1="542.63" x2="1077.20" y2="542.63" stroke="#686c6e" stroke-width="2.2" />
<line x1="1073.20" y1="533.18" x2="1077.20" y2="533.18" stroke="#686c6e" stroke-width="2.2" />
<line x1="1073.20" y1="523.72" x2="1077.20" y2="523.72" stroke="#686c6e" stroke-width="2.2" />
<line x1="1073.20" y1="504.80" x2="1077.20" y2="504.80" stroke="#686c6e" stroke-width="2.2" />
<line x1="1073.20" y1="495.34" x2="1077.20" y2="495.34" stroke="#686c6e" stroke-width="2.2" />
<line x1="1077.20" y1="798.00" x2="1077.20" y2="806.30" stroke="#686c6e" stroke-width="2.2" />
<line x1="1134.60" y1="798.00" x2="1134.60" y2="806.30" stroke="#686c6e" stroke-width="2.2" />
<line x1="1191.00" y1="798.00" x2="1191.00" y2="806.30" stroke="#686c6e" stroke-width="2.2" />
<line x1="1248.10" y1="798.00" x2="1248.10" y2="806.30" stroke="#686c6e" stroke-width="2.2" />
<line x1="1305.50" y1="798.00" x2="1305.50" y2="806.30" stroke="#686c6e" stroke-width="2.2" />
<line x1="1362.50" y1="798.00" x2="1362.50" y2="806.30" stroke="#686c6e" stroke-width="2.2" />
<line x1="1420.50" y1="798.00" x2="1420.50" y2="806.30" stroke="#686c6e" stroke-width="2.2" />
<line x1="1088.68" y1="798.00" x2="1088.68" y2="804.00" stroke="#686c6e" stroke-width="2.2" />
<line x1="1100.16" y1="798.00" x2="1100.16" y2="804.00" stroke="#686c6e" stroke-width="2.2" />
<line x1="1111.64" y1="798.00" x2="1111.64" y2="804.00" stroke="#686c6e" stroke-width="2.2" />
<line x1="1123.12" y1="798.00" x2="1123.12" y2="804.00" stroke="#686c6e" stroke-width="2.2" />
<line x1="1145.88" y1="798.00" x2="1145.88" y2="804.00" stroke="#686c6e" stroke-width="2.2" />
<line x1="1157.16" y1="798.00" x2="1157.16" y2="804.00" stroke="#686c6e" stroke-width="2.2" />
<line x1="1168.44" y1="798.00" x2="1168.44" y2="804.00" stroke="#686c6e" stroke-width="2.2" />
<line x1="1179.72" y1="798.00" x2="1179.72" y2="804.00" stroke="#686c6e" stroke-width="2.2" />
<line x1="1202.42" y1="798.00" x2="1202.42" y2="804.00" stroke="#686c6e" stroke-width="2.2" />
<line x1="1213.84" y1="798.00" x2="1213.84" y2="804.00" stroke="#686c6e" stroke-width="2.2" />
<line x1="1225.26" y1="798.00" x2="1225.26" y2="804.00" stroke="#686c6e" stroke-width="2.2" />
<line x1="1236.68" y1="798.00" x2="1236.68" y2="804.00" stroke="#686c6e" stroke-width="2.2" />
<line x1="1259.58" y1="798.00" x2="1259.58" y2="804.00" stroke="#686c6e" stroke-width="2.2" />
<line x1="1271.06" y1="798.00" x2="1271.06" y2="804.00" stroke="#686c6e" stroke-width="2.2" />
<line x1="1282.54" y1="798.00" x2="1282.54" y2="804.00" stroke="#686c6e" stroke-width="2.2" />
<line x1="1294.02" y1="798.00" x2="1294.02" y2="804.00" stroke="#686c6e" stroke-width="2.2" />
<line x1="1316.90" y1="798.00" x2="1316.90" y2="804.00" stroke="#686c6e" stroke-width="2.2" />
<line x1="1328.30" y1="798.00" x2="1328.30" y2="804.00" stroke="#686c6e" stroke-width="2.2" />
<line x1="1339.70" y1="798.00" x2="1339.70" y2="804.00" stroke="#686c6e" stroke-width="2.2" />
<line x1="1351.10" y1="798.00" x2="1351.10" y2="804.00" stroke="#686c6e" stroke-width="2.2" />
<line x1="1374.10" y1="798.00" x2="1374.10" y2="804.00" stroke="#686c6e" stroke-width="2.2" />
<line x1="1385.70" y1="798.00" x2="1385.70" y2="804.00" stroke="#686c6e" stroke-width="2.2" />
<line x1="1397.30" y1="798.00" x2="1397.30" y2="804.00" stroke="#686c6e" stroke-width="2.2" />
<line x1="1408.90" y1="798.00" x2="1408.90" y2="804.00" stroke="#686c6e" stroke-width="2.2" />
<line x1="1432.10" y1="798.00" x2="1432.10" y2="804.00" stroke="#686c6e" stroke-width="2.2" />
<line x1="1443.70" y1="798.00" x2="1443.70" y2="804.00" stroke="#686c6e" stroke-width="2.2" />
<line x1="1455.30" y1="798.00" x2="1455.30" y2="804.00" stroke="#686c6e" stroke-width="2.2" />
<text transform="translate(1041.93,521.81) scale(0.6900,1)" font-size="17.90" fill="#000">3500</text>
<text transform="translate(1041.93,569.10) scale(0.6900,1)" font-size="17.90" fill="#000">3000</text>
<text transform="translate(1041.93,616.39) scale(0.6900,1)" font-size="17.90" fill="#000">2500</text>
<text transform="translate(1041.93,663.68) scale(0.6900,1)" font-size="17.90" fill="#000">2000</text>
<text transform="translate(1041.93,710.97) scale(0.6900,1)" font-size="17.90" fill="#000">1500</text>
<text transform="translate(1041.93,758.26) scale(0.6900,1)" font-size="17.90" fill="#000">1000</text>
<text transform="translate(1048.80,805.55) scale(0.6900,1)" font-size="17.90" fill="#000">500</text>
<text transform="translate(1066.96,829.70) scale(0.6900,1)" font-size="17.90" fill="#000">500</text>
<text transform="translate(1120.73,829.70) scale(0.6900,1)" font-size="17.90" fill="#000">1000</text>
<text transform="translate(1177.13,829.70) scale(0.6900,1)" font-size="17.90" fill="#000">1500</text>
<text transform="translate(1234.40,829.70) scale(0.6900,1)" font-size="17.90" fill="#000">2000</text>
<text transform="translate(1291.80,829.70) scale(0.6900,1)" font-size="17.90" fill="#000">2500</text>
<text transform="translate(1348.87,829.70) scale(0.6900,1)" font-size="17.90" fill="#000">3000</text>
<text transform="translate(1406.87,829.70) scale(0.6900,1)" font-size="17.90" fill="#000">3500</text>
<text transform="translate(1239.29,855.80) scale(0.7189,1)" font-size="17.44" fill="#000">YPred[4](TV)</text>
<text transform="translate(1038.40,672.12) rotate(-90) scale(1.4420,1)" font-size="13.08">YVar(TV)</text>
<text transform="translate(1077.86,536.60) scale(0.6114,1)" font-size="27.78" fill="#000">R2</text>
<text transform="translate(1106.83,536.80) scale(0.6540,1)" font-size="28.36" fill="#000">=</text>
<text transform="translate(1124.14,536.60) scale(0.6890,1)" font-size="27.78" fill="#000">0.9826</text>
<text transform="translate(1187.20,536.60) scale(0.7017,1)" font-size="27.78" fill="#000">Q2=0.842</text>
</svg>
</body></html>
